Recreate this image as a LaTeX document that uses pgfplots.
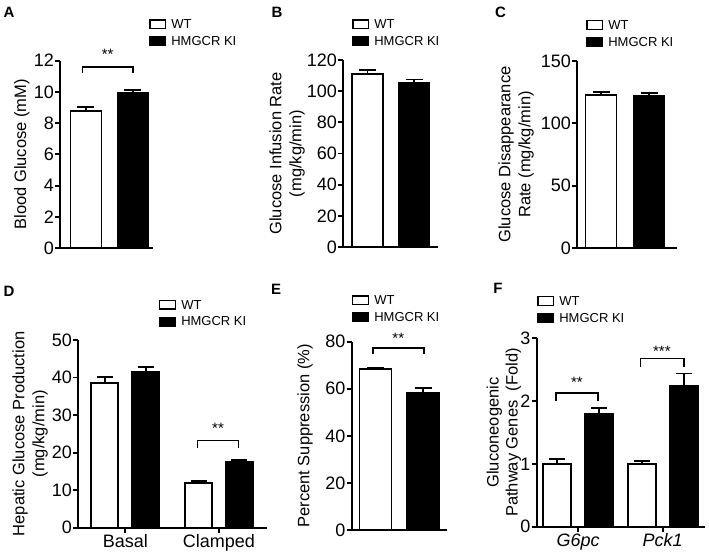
\documentclass[border=0pt]{standalone}
\usepackage{fontspec}
\setmainfont{Liberation Sans}
\usepackage{pgfplots}
\pgfplotsset{compat=1.18}
\pgfplotsset{
  panel/.style={
    scale only axis, axis lines=left, axis line style={-, line width=1.9pt},
    enlargelimits=false, clip=false, ymin=0,
    tick align=outside, major tick length=5pt,
    every tick/.style={black, line width=1.9pt},
    xtick=\empty, ytick pos=left,
    /pgf/number format/assume math mode=true,
    tick label style={font=\fontsize{18}{18}\selectfont},
    yticklabel style={inner sep=1pt},
    xticklabel style={inner sep=2pt},
    ylabel style={anchor=center, align=center, font=\fontsize{16.5}{20}\selectfont},
    legend cell align=left,
    legend style={draw=none, fill=none, inner sep=0pt, anchor=west,
      row sep=6pt, column sep=5pt,
      font=\fontsize{13}{13}\selectfont,
      nodes={inner sep=0pt, anchor=base west}},
    error bars/y dir=plus, error bars/y explicit,
    error bars/error bar style={line width=1.9pt},
    error bars/error mark options={rotate=90, line width=1.9pt, mark size=8.5pt},
  },
  wt/.style={ybar, bar shift=0pt, draw=black, fill=white, line width=1.9pt,
    legend image code/.code={\draw[black, fill=white, line width=1.3pt] (0.6pt,0pt) rectangle (16.4pt,8.8pt);}},
  ki/.style={ybar, bar shift=0pt, draw=black, fill=black, line width=1.9pt,
    legend image code/.code={\draw[black, fill=black, line width=1.3pt] (0.6pt,0pt) rectangle (16.4pt,8.8pt);}},
  brk/.style={black, line width=1.6pt, forget plot, mark=none},
}
\newcommand{\stars}{\fontsize{15}{15}\selectfont}
\begin{document}
\begin{tikzpicture}
\useasboundingbox (0pt,0pt) rectangle (709pt,559pt);

% ---------------- A
\begin{axis}[panel, at={(60pt,311pt)}, anchor=south west,
  width=93pt, height=187.3pt,
  xmin=0.447, xmax=2.426, ymax=12, ytick={0,2,...,12},
  bar width=31pt,
  ylabel={Blood Glucose (mM)},
  ylabel style={at={(axis description cs:-0.409,0.5)}},
  legend style={at={(axis description cs:0.957,1.146)}},
]
\addplot[wt] coordinates {(1,8.78) +- (0,0.26)};
\addplot[ki] coordinates {(2,9.93) +- (0,0.18)};
\legend{WT, HMGCR KI}
\addplot[brk] coordinates {(0.93,11.2) (0.93,11.6) (1.994,11.6) (1.994,11.2)};
\node[font=\stars] at (axis cs:1.46,12.4) {**};
\end{axis}

% ---------------- B
\begin{axis}[panel, at={(343pt,312pt)}, anchor=south west,
  width=95pt, height=187pt,
  xmin=0.473, xmax=2.516, ymax=120, ytick={0,20,...,120},
  bar width=31pt,
  ylabel={Glucose Infusion Rate\\(mg/kg/min)},
  ylabel style={at={(axis description cs:-0.589,0.5)}},
  legend style={at={(axis description cs:0.095,1.143)}},
]
\addplot[wt] coordinates {(1,111) +- (0,2.4)};
\addplot[ki] coordinates {(2,105.3) +- (0,2.2)};
\legend{WT, HMGCR KI}
\end{axis}

% ---------------- C
\begin{axis}[panel, at={(577pt,311pt)}, anchor=south west,
  width=100pt, height=187pt,
  xmin=0.5, xmax=2.583, ymax=150, ytick={0,50,100,150},
  bar width=31pt,
  ylabel={Glucose Disappearance\\Rate (mg/kg/min)},
  ylabel style={at={(axis description cs:-0.61,0.5)}},
  legend style={at={(axis description cs:0.09,1.146)}},
]
\addplot[wt] coordinates {(1,122.5) +- (0,2.8)};
\addplot[ki] coordinates {(2,121.8) +- (0,2.6)};
\legend{WT, HMGCR KI}
\end{axis}

% ---------------- D
\begin{axis}[panel, at={(78pt,31.3pt)}, anchor=south west,
  width=188.7pt, height=187.7pt,
  xmin=0.495, xmax=2.51, ymax=50, ytick={0,10,...,50},
  xtick={1,2}, xticklabels={Basal, Clamped},
  bar width=27pt,
  ylabel={Hepatic Glucose Production\\(mg/kg/min)},
  ylabel style={at={(axis description cs:-0.254,0.5)}},
  legend style={at={(axis description cs:0.429,1.141)}},
  error bars/error mark options={rotate=90, line width=1.9pt, mark size=8pt},
]
\addplot[wt] coordinates {(0.782,38.5) +- (0,1.6) (1.782,12.0) +- (0,0.5)};
\addplot[ki] coordinates {(1.218,41.6) +- (0,1.2) (2.218,17.4) +- (0,0.6)};
\legend{WT, HMGCR KI}
\addplot[brk] coordinates {(1.77,21.3) (1.77,23.2) (2.21,23.2) (2.21,21.3)};
\node[font=\stars] at (axis cs:1.99,26.6) {**};
\end{axis}

% ---------------- E
\begin{axis}[panel, at={(351.7pt,29pt)}, anchor=south west,
  width=95.3pt, height=188.3pt,
  xmin=0.499, xmax=2.505, ymax=80, ytick={0,20,...,80},
  bar width=32pt,
  ylabel={Percent Suppression (\%)},
  ylabel style={at={(axis description cs:-0.49,0.5)}},
  legend style={at={(axis description cs:0.003,1.172)}},
]
\addplot[wt] coordinates {(1,68.5) +- (0,0.4)};
\addplot[ki] coordinates {(2,58.3) +- (0,1.9)};
\legend{WT, HMGCR KI}
\addplot[brk] coordinates {(0.947,74.6) (0.947,77.4) (2.02,77.4) (2.02,74.6)};
\node[font=\stars] at (axis cs:1.48,81.6) {**};
\end{axis}

% ---------------- F
\begin{axis}[panel, at={(536.7pt,32.3pt)}, anchor=south west,
  width=168.3pt, height=188.3pt,
  xmin=0.509, xmax=2.5, ymax=3, ytick={0,1,2,3},
  xtick={1,2}, xticklabels={\textit{G6pc}, \textit{Pck1}},
  bar width=28pt,
  ylabel={Gluconeogenic\\Pathway Genes\ \ (Fold)},
  ylabel style={at={(axis description cs:-0.195,0.5)}, font=\fontsize{16.5}{19}\selectfont},
  legend style={at={(axis description cs:0.002,1.152)}},
  error bars/error mark options={rotate=90, line width=1.9pt, mark size=8pt},
]
\addplot[wt] coordinates {(0.752,1.0) +- (0,0.08) (1.752,1.0) +- (0,0.05)};
\addplot[ki] coordinates {(1.248,1.80) +- (0,0.09) (2.248,2.24) +- (0,0.2)};
\legend{WT, HMGCR KI}
\addplot[brk] coordinates {(0.737,2.0) (0.737,2.13) (1.233,2.13) (1.233,2.0)};
\addplot[brk] coordinates {(1.737,2.55) (1.737,2.68) (2.248,2.68) (2.248,2.55)};
\node[font=\stars] at (axis cs:0.985,2.30) {**};
\node[font=\stars] at (axis cs:1.99,2.80) {***};
\end{axis}

% panel letters
\begin{scope}[every node/.style={font=\bfseries\fontsize{15}{15}\selectfont}]
\node at (9pt,546.5pt) {A};
\node at (277pt,546.5pt) {B};
\node at (500.5pt,546.5pt) {C};
\node at (9pt,268pt) {D};
\node at (276pt,270pt) {E};
\node at (498pt,271pt) {F};
\end{scope}
\end{tikzpicture}
\end{document}
